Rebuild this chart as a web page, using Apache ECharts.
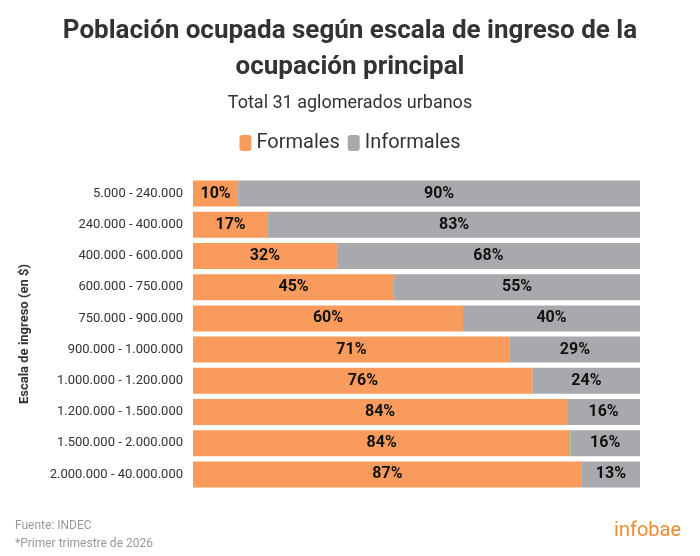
<!DOCTYPE html>
<html lang="es">
<head>
<meta charset="UTF-8">
<script src="https://cdn.jsdelivr.net/npm/echarts@6/dist/echarts.min.js"></script>
<style>body{margin:0;background:#fff}</style>
</head>
<body>
<div id="main" style="width:700px;height:556px;"></div>
<script type="text/javascript">
var categories = ['5.000 - 240.000','240.000 - 400.000','400.000 - 600.000','600.000 - 750.000','750.000 - 900.000','900.000 - 1.000.000','1.000.000 - 1.200.000','1.200.000 - 1.500.000','1.500.000 - 2.000.000','2.000.000 - 40.000.000'];
var formales = [10.1, 16.8, 32.2, 45.0, 60.4, 70.9, 76.0, 83.7, 84.4, 87.0];
var informales = [89.9, 83.2, 67.8, 55.0, 39.6, 29.1, 24.0, 16.3, 15.6, 13.0];

var myChart = echarts.init(document.getElementById('main'));
var font = 'Roboto';
var lbl = {
    show: true, position: 'inside', color: '#111', fontFamily: font,
    fontWeight: 'bold', fontSize: 16,
    formatter: function (p) { return Math.round(p.value) + '%'; }
};
myChart.setOption({
    animation: false,
    title: [{
        text: 'Población ocupada según escala de ingreso de la\nocupación principal',
        left: 'center', top: 8,
        textStyle: {fontFamily: font, fontWeight: 'bold', fontSize: 26, lineHeight: 36, color: '#333'}
    }, {
        text: 'Total 31 aglomerados urbanos',
        left: 'center', top: 89,
        textStyle: {fontFamily: font, fontWeight: 'normal', fontSize: 18, color: '#333'}
    }, {
        text: 'Fuente: INDEC\n*Primer trimestre de 2026',
        left: 10, top: 512,
        textStyle: {fontFamily: font, fontWeight: 'normal', fontSize: 12, lineHeight: 18, color: '#999'}
    }, {
        text: 'infobae',
        right: 14, top: 516,
        textStyle: {fontFamily: font, fontWeight: 'normal', fontSize: 20, color: '#f28a2e'}
    }],
    legend: {
        top: 128, left: 'center', itemWidth: 12, itemHeight: 16, itemGap: 8,
        textStyle: {fontFamily: font, fontSize: 20, color: '#333'},
        data: ['Formales', 'Informales']
    },
    grid: {left: 193, right: 60, top: 178, bottom: 66},
    xAxis: {type: 'value', min: 0, max: 100, show: false},
    yAxis: {
        type: 'category', data: categories, inverse: true,
        name: 'Escala de ingreso (en $)', nameLocation: 'middle', nameGap: 162,
        nameTextStyle: {fontFamily: font, fontWeight: 'bold', fontSize: 13, color: '#333'},
        axisLine: {show: false}, axisTick: {show: false},
        axisLabel: {fontFamily: font, fontSize: 13, color: '#333', margin: 10}
    },
    series: [{
        name: 'Formales', type: 'bar', stack: 't', data: formales, barWidth: 26,
        itemStyle: {color: '#f89b5c'}, label: lbl
    }, {
        name: 'Informales', type: 'bar', stack: 't', data: informales, barWidth: 26,
        itemStyle: {color: '#a7a9ac'}, label: lbl
    }]
});
</script>
</body>
</html>
